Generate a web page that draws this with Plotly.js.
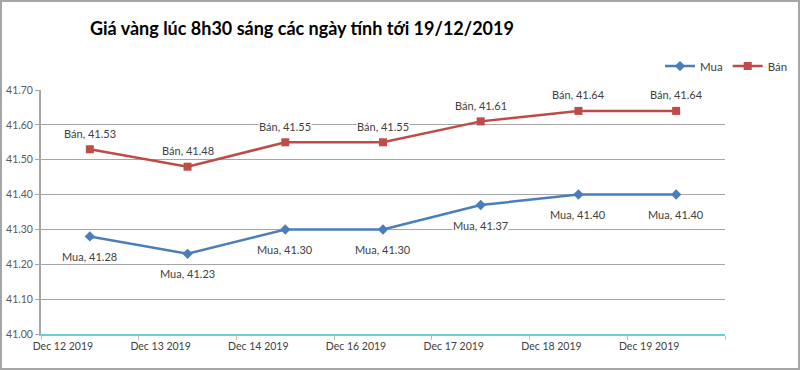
<!DOCTYPE html>
<html>
<head>
<meta charset="utf-8">
<script src="https://cdn.plot.ly/plotly-3.0.1.min.js"></script>
<style>
html,body{margin:0;padding:0;background:#fff;}
#wrap{position:relative;width:800px;height:370px;}
#chart{width:800px;height:370px;}
#frame{position:absolute;left:0;top:0;width:800px;height:370px;box-sizing:border-box;border:2px solid #a6a6a6;pointer-events:none;}
</style>
</head>
<body>
<div id="wrap"><div id="chart"></div><div id="frame"></div></div>
<script>
const categories = ["Dec 12 2019","Dec 13 2019","Dec 14 2019","Dec 16 2019","Dec 17 2019","Dec 18 2019","Dec 19 2019"];
const muaName = "Mua";
const banName = "Bán";
const muaValues = [41.28, 41.23, 41.30, 41.30, 41.37, 41.40, 41.40];
const banValues = [41.53, 41.48, 41.55, 41.55, 41.61, 41.64, 41.64];
const yTickVals = [41.00, 41.10, 41.20, 41.30, 41.40, 41.50, 41.60, 41.70];
const titleText = "Giá vàng lúc 8h30 sáng các ngày tính tới 19/12/2019";

const FONT = "Lato, 'Open Sans', sans-serif";
const blue = "#4A7EBB";
const red = "#BE4B48";

const traces = [
  {x: categories, y: muaValues, name: muaName, type: "scatter", mode: "lines+markers",
   line: {color: blue, width: 2.5}, marker: {symbol: "diamond", size: 8, color: blue}},
  {x: categories, y: banValues, name: banName, type: "scatter", mode: "lines+markers",
   line: {color: red, width: 2.5}, marker: {symbol: "square", size: 8, color: red}}
];

const annotations = [];
categories.forEach((c, i) => {
  annotations.push({x: c, y: banValues[i], xref: "x", yref: "y", text: banName + ", " + banValues[i].toFixed(2),
    showarrow: false, yshift: 16, bgcolor: "#ffffff", borderpad: 0,
    font: {family: FONT, size: 11, color: "#404040"}});
  annotations.push({x: c, y: muaValues[i], xref: "x", yref: "y", text: muaName + ", " + muaValues[i].toFixed(2),
    showarrow: false, yshift: -20, bgcolor: "#ffffff", borderpad: 0,
    font: {family: FONT, size: 11, color: "#404040"}});
});

const layout = {
  width: 800, height: 370,
  margin: {l: 41, r: 75, t: 90, b: 36, pad: 0, autoexpand: false},
  paper_bgcolor: "#ffffff", plot_bgcolor: "#ffffff",
  font: {family: FONT, color: "#404040"},
  title: {text: titleText, font: {family: FONT, size: 18, color: "#000000", weight: "bold"},
    xref: "container", yref: "container", x: 90/800, xanchor: "left", y: 1 - 29/370, yanchor: "middle"},
  showlegend: true,
  legend: {orientation: "h", x: (793 - 41) / 684, xanchor: "right", y: 1.098, yanchor: "middle",
    font: {family: FONT, size: 11.5, color: "#404040"}, itemwidth: 30,
    bgcolor: "rgba(0,0,0,0)", tracegroupgap: 0},
  xaxis: {type: "category", range: [-0.5, 6.5], showgrid: false, zeroline: false,
    showline: true, linecolor: "#6CCFCF", linewidth: 1.5,
    ticks: "outside", tickson: "boundaries", ticklen: 4, tickcolor: "#bfbfbf",
    ticklabelshift: -27, ticklabelstandoff: 2,
    tickfont: {family: FONT, size: 10.5, color: "#404040"}, fixedrange: true},
  yaxis: {range: [41.0, 41.7], tickvals: yTickVals, tickformat: ".2f", showgrid: true, gridcolor: "#a6a6a6", gridwidth: 1,
    zeroline: false, showline: true, linecolor: "#a6a6a6", linewidth: 2,
    ticks: "outside", ticklen: 4, tickcolor: "#a6a6a6",
    tickfont: {family: FONT, size: 10.5, color: "#595959"}, fixedrange: true},
  annotations: annotations
};

Plotly.newPlot("chart", traces, layout, {displayModeBar: false, staticPlot: true});
</script>
</body>
</html>
